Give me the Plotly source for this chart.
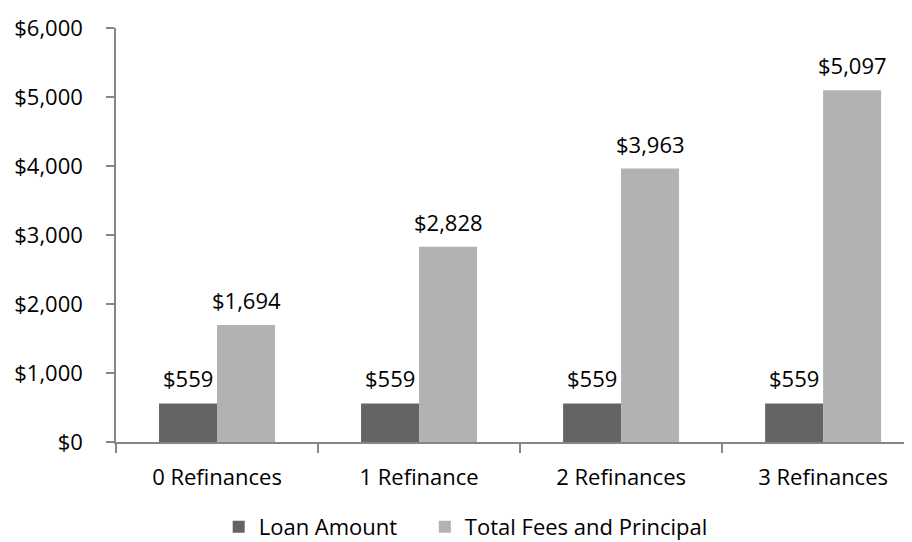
import plotly.graph_objects as go

categories = ["0 Refinances", "1 Refinance", "2 Refinances", "3 Refinances"]
loan_amount = [559, 559, 559, 559]
total_fees = [1694, 2828, 3963, 5097]
y_ticks = [0, 1000, 2000, 3000, 4000, 5000, 6000]
y_tick_labels = ["$0", "$1,000", "$2,000", "$3,000", "$4,000", "$5,000", "$6,000"]

FONT = "Open Sans"
FS = 22

fig = go.Figure()
fig.add_trace(go.Bar(
    name="Loan Amount", x=categories, y=loan_amount,
    marker=dict(color="#646464", line=dict(width=0)), legend="legend",
))
fig.add_trace(go.Bar(
    name="Total Fees and Principal", x=categories, y=total_fees,
    marker=dict(color="#b2b2b2", line=dict(width=0)), legend="legend2",
))

annotations = []
for series, shift in ((loan_amount, -29), (total_fees, 29)):
    for c, v in zip(categories, series):
        annotations.append(dict(
            x=c, y=v, xref="x", yref="y", text=f"${v:,}", showarrow=False,
            xanchor="center", yanchor="bottom", xshift=shift, yshift=8,
            font=dict(size=FS, family=FONT, color="#000000"),
        ))

legend_common = dict(orientation="h", xanchor="left", y=-0.205, yanchor="middle",
                     font=dict(size=FS, family=FONT), itemwidth=30,
                     bgcolor="rgba(0,0,0,0)")

fig.update_layout(
    width=904, height=534,
    margin=dict(l=108, r=0, t=20, b=100, autoexpand=False),
    paper_bgcolor="white", plot_bgcolor="white",
    barmode="group", bargap=0.426, bargroupgap=0,
    font=dict(family=FONT, size=FS, color="#000000"),
    showlegend=True,
    legend=dict(x=0.129, **legend_common),
    legend2=dict(x=0.388, **legend_common),
    annotations=annotations,
)
fig.update_xaxes(
    range=[-0.5, 3.44], showgrid=False, showline=True, linecolor="#868686", linewidth=1.5,
    ticks="outside", tickson="boundaries", ticklen=9, tickcolor="#868686", tickwidth=1.5,
    ticklabelstandoff=15, tickfont=dict(size=FS, family=FONT), fixedrange=True,
    automargin=False,
)
fig.update_yaxes(
    range=[0, 6000], tickvals=y_ticks, ticktext=y_tick_labels,
    showgrid=False, showline=True, linecolor="#868686", linewidth=1.5,
    ticks="outside", ticklen=8, tickcolor="#868686", tickwidth=1.5,
    ticklabelstandoff=19, tickfont=dict(size=FS, family=FONT), zeroline=False,
    automargin=False,
)

fig.write_html("out.html")
